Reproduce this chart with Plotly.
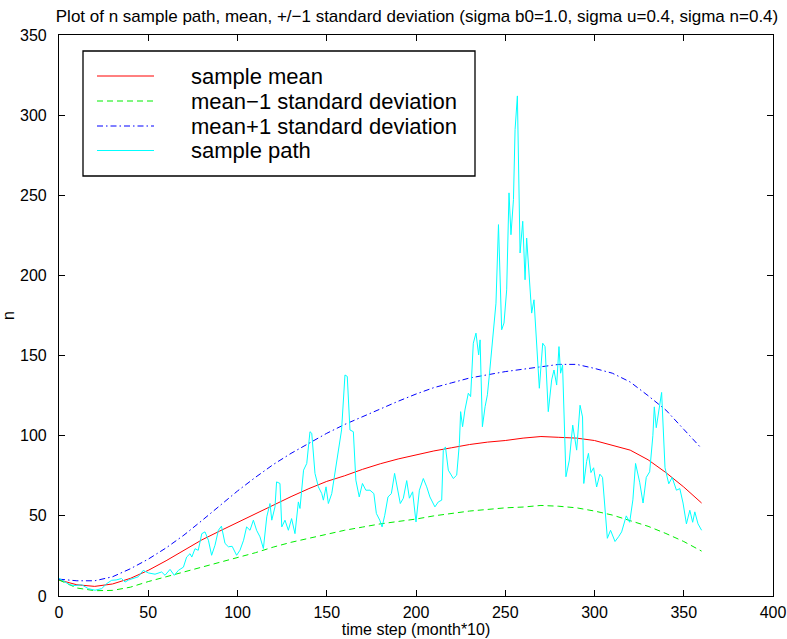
import plotly.graph_objects as go

# Smoothed statistics on a 10-step grid
t_grid = list(range(0, 361, 10))
mean_n = [10, 7, 6, 7.5, 11, 16, 22, 28.5, 35, 40.5,
          46, 51.5, 57, 62, 67, 71.5, 75, 79, 82.5, 85.5,
          88, 90.5, 92.5, 94.5, 96, 97, 98.5, 99.5, 99, 98.5,
          97, 94, 91, 85, 77, 68, 58]
mean_minus_sd = [10, 5, 3.3, 3.5, 5.5, 9, 12, 15, 18, 21,
                 24, 27, 30.5, 33.5, 36, 38.5, 41, 43, 45, 46.5,
                 48, 50, 51.5, 53, 54, 55, 55.5, 56.5, 56, 55,
                 53, 50.5, 47, 43.5, 39, 34, 28]
mean_plus_sd = [10.5, 9.5, 9.5, 12, 17, 23, 30, 38, 47, 56.5,
                65.5, 74, 82, 89, 95.5, 101.5, 107, 112, 117, 121.5,
                126, 130, 133, 136, 138, 140, 141.5, 143, 144.5, 144.5,
                142, 139, 133.5, 125, 116, 104, 92]

# One simulated sample path
path_t = [0, 1.5, 4, 6, 9, 12.7, 16.4, 20.2, 23.9, 26.7,
          29.5, 32, 35, 37, 39, 41.6, 44.4, 47.2, 50, 53.8,
          57.5, 59.4, 62.2, 64.6, 66.9, 69.7, 71.5, 73.4, 74.4, 76.2,
          78, 80, 81.8, 83.7, 85.5, 87.4, 89.3, 91, 93, 94.9,
          97, 99.5, 101.4, 103.4, 105.1, 107, 108.9, 110.7, 112.6, 114.5,
          116.4, 118.2, 119.2, 121, 121.9, 123.8, 124.8, 126.6, 128.5, 130.3,
          132.2, 134.1, 135, 137, 138.8, 140.6, 141.6, 143.4, 145.3, 147.2,
          148.1, 149.6, 150.9, 152.8, 154.6, 156.5, 158.3, 160.2, 161.5, 163,
          164.9, 166.3, 168.2, 170, 171.9, 174.2, 176.4, 177.8, 179.7, 181,
          182.5, 184.3, 186.2, 188, 189.9, 191.2, 192.9, 194.8, 196.3, 198.1,
          200, 201.9, 204.1, 206, 207.8, 210.6, 212.5, 214.4, 215.3, 216.5,
          218.1, 220.9, 222.8, 224.3, 225, 226.1, 227.4, 229.3, 230.6, 232.1,
          233.6, 235.1, 235.9, 237.2, 238.7, 240, 241.1, 243, 244.8, 246.2,
          248, 249.3, 250.8, 252.1, 253.2, 254.6, 255.5, 256.8, 258.3, 259.8,
          261.1, 262, 263.5, 264.8, 266.1, 267.6, 269.1, 271, 272.3, 274.1,
          276, 277.3, 278.8, 280.1, 281, 282.1, 284, 285.9, 287.8, 290,
          291.9, 293.3, 294, 295.6, 296.6, 298, 299.5, 301.2, 303, 304.5,
          305.8, 307.2, 309, 311.5, 313.5, 315.2, 317.8, 319.7, 321.5, 323,
          325.3, 327.2, 329, 330.9, 332.7, 333.5, 334.6, 336.4, 337.6, 339.5,
          341.6, 343.5, 345.9, 347.8, 349.6, 351.5, 353.4, 355, 356.2, 358,
          360]
path_n = [11, 10, 8, 7, 6.5, 7, 4.6, 3.6, 4.6, 7.7,
          9.8, 10, 10.9, 8.7, 10, 10.9, 12, 16, 14.4, 13.6,
          15, 12.9, 16.6, 12.9, 16, 18, 24.3, 26.4, 24.3, 29.5,
          28.5, 38.9, 40, 34.8, 25.4, 31.7, 41, 43.6, 32.8, 30.7,
          31, 25.4, 28.6, 34.8, 43.1, 41, 47.3, 41, 36.9, 29.6,
          49.4, 57.7, 47.3, 55.6, 71.2, 70.2, 43.1, 47.3, 41, 48.3,
          38.9, 58.7, 54.6, 78.5, 82.7, 102.5, 101.5, 76.5, 68.1, 63.9,
          59.8, 68.1, 57.7, 63.9, 76.5, 91, 103.6, 137.9, 137, 103.6,
          102.5, 72.3, 61.8, 70.2, 66, 66, 63.9, 51.5, 47.3, 43.1,
          50.4, 61.8, 63.9, 76.5, 66, 57.7, 61, 72, 61, 65,
          46.2, 66, 73.3, 68.1, 61.8, 55.6, 58.7, 59.8, 91, 93,
          78.5, 73.3, 75.4, 95.2, 115, 105.6, 116, 126.5, 124.4, 157.7,
          164, 150.4, 159.8, 105.6, 118.1, 125.5, 138, 159.8, 182.7, 231.7,
          166.1, 170.3, 191, 251.5, 225.4, 247.3, 291, 312, 214, 233.8,
          197.3, 223.3, 197.3, 176.5, 184.8, 157.7, 129.6, 157.7, 155.6, 115,
          134.8, 141, 131.6, 155.6, 139, 144.2, 74.4, 84.8, 106.6, 91,
          119, 111.7, 70.2, 84, 89, 77, 80, 68, 76, 74,
          57.7, 36, 41, 34, 37, 40, 50, 46, 60, 82.7,
          71, 58, 74, 77.5, 100, 118, 105, 118, 127, 80,
          70, 74, 66, 67, 58, 45, 53.5, 46, 52.5, 45,
          41]

x_ticks = [0, 50, 100, 150, 200, 250, 300, 350, 400]
y_ticks = [0, 50, 100, 150, 200, 250, 300, 350]

series_names = ["sample mean", "mean\u22121 standard deviation",
                "mean+1 standard deviation", "sample path"]
series_colors = ["#ff0000", "#00ee00", "#0000ff", "#00ffff"]
series_dash = ["solid", "6px,4px", "6px,3px,1.5px,3px", "solid"]

W, H = 787, 639
ML, MR, MT, MB = 59, 14, 35, 43
FONT = "Liberation Sans, Arial, Helvetica, sans-serif"

fig = go.Figure()
curves = [(t_grid, mean_n), (t_grid, mean_minus_sd), (t_grid, mean_plus_sd), (path_t, path_n)]
for (xs, ys), name, col, dash in zip(curves, series_names, series_colors, series_dash):
    fig.add_trace(go.Scatter(x=xs, y=ys, mode="lines", name=name,
                             line=dict(color=col, width=1, dash=dash),
                             showlegend=False))

# pixel -> paper helpers for the boxed legend
pw, ph = W - ML - MR, H - MT - MB
def px(x):
    return (x - ML) / pw
def py(y):
    return (H - MB - y) / ph

shapes = [dict(type="rect", xref="paper", yref="paper",
               x0=px(83), x1=px(475), y0=py(176), y1=py(51),
               line=dict(color="black", width=1.3), fillcolor="white", layer="above")]
annotations = []
row_y = [76, 101, 126, 150.5]
for ry, name, col, dash in zip(row_y, series_names, series_colors, series_dash):
    shapes.append(dict(type="line", xref="paper", yref="paper",
                       x0=px(97), x1=px(154), y0=py(ry), y1=py(ry),
                       line=dict(color=col, width=1, dash=dash), layer="above"))
    annotations.append(dict(xref="paper", yref="paper", x=px(189), y=py(ry),
                            xanchor="left", yanchor="middle", showarrow=False,
                            text=name, font=dict(family=FONT, size=22, color="black")))

axis_common = dict(showline=True, linecolor="black", linewidth=1.2, mirror="ticks",
                   ticks="inside", ticklen=6, tickcolor="black", tickwidth=1,
                   showgrid=False, zeroline=False,
                   tickfont=dict(family=FONT, size=16, color="black"))

fig.update_layout(
    width=W, height=H,
    margin=dict(l=ML, r=MR, t=MT, b=MB, autoexpand=False),
    paper_bgcolor="white", plot_bgcolor="white",
    title=dict(text="Plot of n sample path, mean, +/\u22121 standard deviation "
                    "(sigma b0=1.0, sigma u=0.4, sigma n=0.4)",
               x=px(417), xref="paper", xanchor="center",
               y=1 - 16 / H, yref="container", yanchor="middle",
               font=dict(family=FONT, size=17, color="black")),
    xaxis=dict(range=[0, 400], tickvals=x_ticks, ticklabelstandoff=2,
               title=dict(text="time step (month*10)", standoff=2,
                          font=dict(family=FONT, size=16, color="black")),
               **axis_common),
    yaxis=dict(range=[0, 350], tickvals=y_ticks, ticklabelstandoff=8,
               title=dict(text="n", standoff=6,
                          font=dict(family=FONT, size=16, color="black")),
               **axis_common),
    shapes=shapes, annotations=annotations,
    showlegend=False,
)

fig.write_html("out.html")
